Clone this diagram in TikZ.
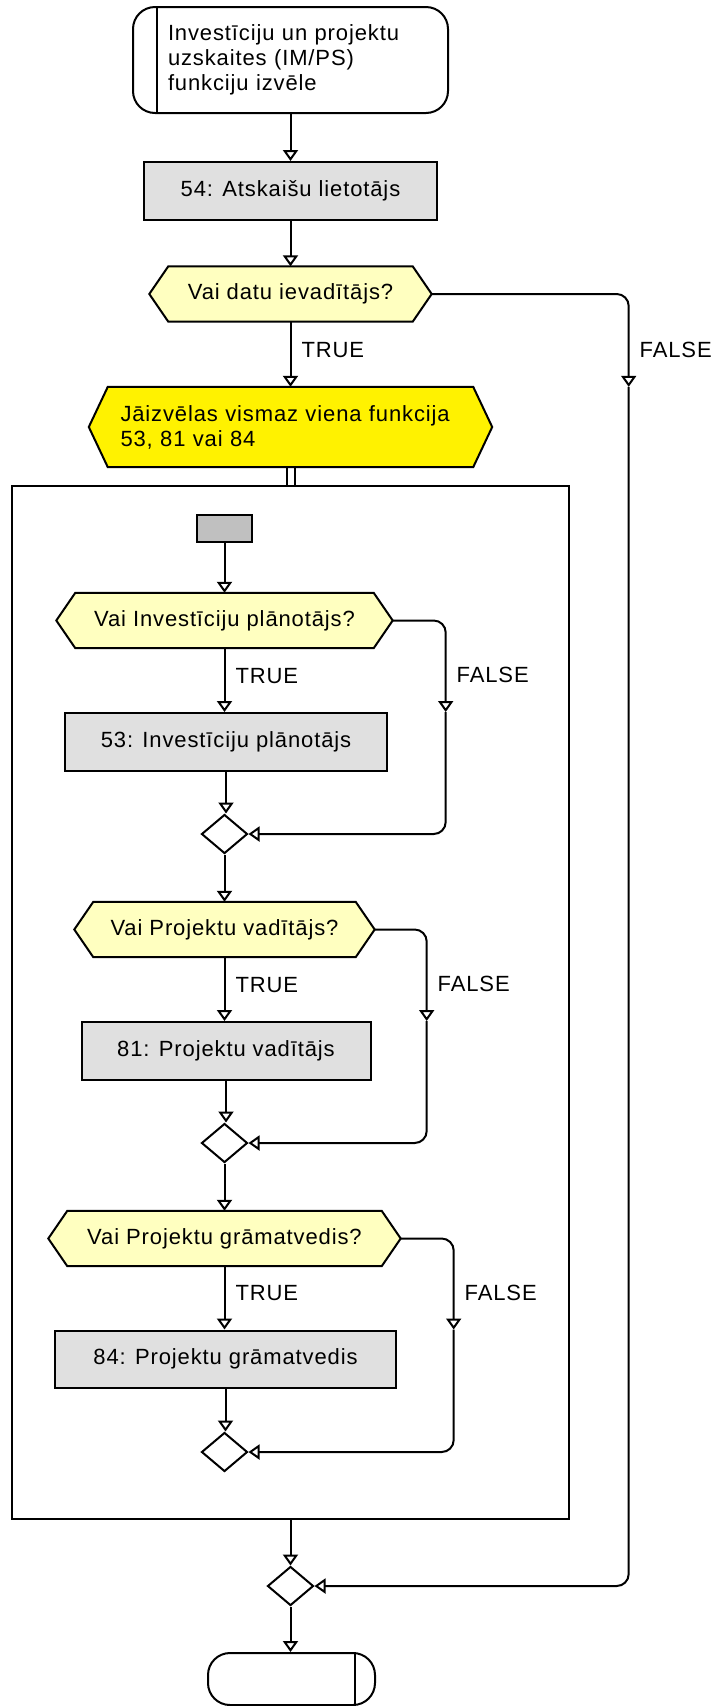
\documentclass[tikz,border=0pt]{standalone}
\usepackage{fontspec}
\setmainfont{Liberation Sans}[LetterSpace=4]
\usetikzlibrary{arrows.meta,shapes.geometric,backgrounds,calc}

\definecolor{decfill}{HTML}{FFFFC0}
\definecolor{boxfill}{HTML}{E0E0E0}
\definecolor{initfill}{HTML}{C0C0C0}

\tikzset{
  every node/.style={font=\fontsize{22}{25}\selectfont},
  conn/.style={line width=2pt},
  flow/.style={conn, -{Triangle[open,width=15pt,length=11pt]}},
  action/.style={draw, conn, fill=boxfill, minimum height=58pt, inner sep=0pt},
  decision/.style={minimum height=55pt, inner sep=0pt},
  merge/.style={draw, conn, diamond, minimum width=46pt, minimum height=39pt, inner sep=0pt},
  terminal/.style={draw, conn, rounded corners=22pt, inner sep=0pt},
  tag/.style={anchor=west, inner sep=0pt, xshift=10pt}
}

\begin{document}
\begin{tikzpicture}[x=1pt,y=-1pt]
\useasboundingbox (0,0) rectangle (718,1706);

% outer flow
\node[terminal, minimum width=315pt, minimum height=106pt, align=left, text width=245pt] (start) at (290.5,60) {Investīciju un projektu\\uzskaites (IM/PS)\\funkciju izvēle};
\draw[conn] ([xshift=25pt]start.north west) -- ([xshift=25pt]start.south west);
\node[action, minimum width=293pt] (u54) at (290.5,191) {54: Atskaišu lietotājs};
\node[decision, minimum width=282pt] (d0) at (290.5,294) {Vai datu ievadītājs?};
\node[decision, minimum width=403pt, minimum height=80pt, align=left, text width=340pt] (choose) at (290.5,427) {Jāizvēlas vismaz viena funkcija\\53, 81 vai 84};
\node[draw, conn, minimum width=557pt, minimum height=1033pt] (frame) at (290.5,1002.5) {};

% inner flow
\node[draw, conn, fill=initfill, minimum width=55pt, minimum height=27pt, inner sep=0pt] (init) at (224.5,528.5) {};
\node[decision, minimum width=336pt] (d1) at (224.5,620.5) {Vai Investīciju plānotājs?};
\node[action, minimum width=322pt] (b53) at (226,742) {53: Investīciju plānotājs};
\node[merge] (m1) at (224.5,834) {};
\node[decision, minimum width=300pt] (d2) at (224.5,929.5) {Vai Projektu vadītājs?};
\node[action, minimum width=289pt] (b81) at (226,1051) {81: Projektu vadītājs};
\node[merge] (m2) at (224.5,1143) {};
\node[decision, minimum width=352pt] (d3) at (224.5,1238.5) {Vai Projektu grāmatvedis?};
\node[action, minimum width=341pt, minimum height=57pt] (b84) at (225.5,1359) {84: Projektu grāmatvedis};
\node[merge] (m3) at (224.5,1452) {};

\node[merge] (join) at (290.5,1586) {};
\node[terminal, minimum width=167pt, minimum height=52pt] (stop) at (291.5,1679) {};
\draw[conn] ([xshift=-21pt]stop.north east) -- ([xshift=-21pt]stop.south east);

% hexagons behind the decision texts
\begin{scope}[on background layer]
  \foreach \n/\c in {d0/decfill, d1/decfill, d2/decfill, d3/decfill, choose/yellow}
    \filldraw[conn, fill=\c] (\n.west) -- ([xshift=19pt]\n.north west) -- ([xshift=-19pt]\n.north east)
      -- (\n.east) -- ([xshift=-19pt]\n.south east) -- ([xshift=19pt]\n.south west) -- cycle;
\end{scope}

% connectors
\foreach \a/\b in {start/u54, u54/d0, init/d1, b53/m1, m1/d2, b81/m2, m2/d3, b84/m3, frame/join, join/stop}
  \draw[flow] (\a.south) -- (\a.south |- \b.north);
\foreach \a/\b in {d0/choose, d1/b53, d2/b81, d3/b84}
  \draw[flow] (\a.south) -- node[tag, pos=0.43] {TRUE} (\a.south |- \b.north);
\foreach \s in {-4,4}
  \draw[conn] ($(choose.south)+(\s,0)$) -- ($(frame.north)+(\s,0)$);

\foreach \d/\b/\m/\dx in {d1/b53/m1/53, d2/b81/m2/52, d3/b84/m3/53, d0/choose/join/197} {
  \coordinate (t\d) at ($(\d.east)+(\dx,0)$);
  \coordinate (f\d) at (t\d |- \b.north);
  \draw[flow, rounded corners=12pt] (\d.east) -| node[tag, pos=0.8] {FALSE} (f\d);
  \draw[flow, rounded corners=12pt] (f\d) |- (\m.east);
}
\end{tikzpicture}
\end{document}
